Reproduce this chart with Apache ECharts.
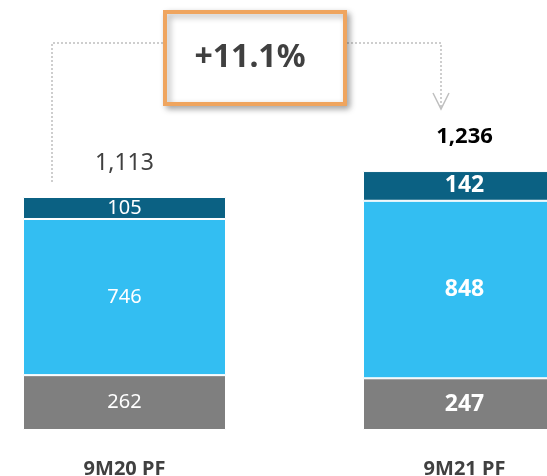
<!DOCTYPE html>
<html>
<head>
<meta charset="utf-8">
<script src="https://cdn.jsdelivr.net/npm/echarts@6/dist/echarts.min.js"></script>
<style>
  html, body { margin: 0; padding: 0; background: #fff; }
  #chart { width: 547px; height: 476px; }
</style>
</head>
<body>
<div id="chart"></div>
<script>
// data
var categories = ["9M20 PF", "9M21 PF"];
var grayValues = [262, 247];
var lightValues = [746, 848];
var darkValues = [105, 142];
var totals = [1113, 1236];

var FONT = "'Noto Sans', 'Open Sans', sans-serif";
var growth = (totals[1] / totals[0] - 1) * 100;
var growthText = "+" + growth.toFixed(1) + "%";

// left bar: plain labels, right bar: bold labels
function segData(values) {
  return values.map(function (v, i) {
    return {
      value: v,
      label: { fontWeight: i === 1 ? "bold" : "normal", fontSize: i === 1 ? 23 : 20 },
    };
  });
}

var chart = echarts.init(document.getElementById("chart"));
var option = {
  animation: false,
  backgroundColor: "#ffffff",
  grid: {
    left: -45.5,
    width: 680,
    top: 116,
    bottom: 46,
    containLabel: false,
    outerBoundsMode: "none",
  },
  xAxis: {
    type: "category",
    data: categories,
    axisLine: { show: false },
    axisTick: { show: false },
    axisLabel: {
      margin: 29,
      color: "#404040",
      fontSize: 20,
      fontWeight: "bold",
      fontFamily: FONT,
    },
  },
  yAxis: {
    type: "value",
    min: 0,
    max: 1500,
    show: false,
    splitLine: { show: false },
  },
  series: [
    {
      type: "bar",
      stack: "t",
      barWidth: 203,
      data: segData(grayValues),
      itemStyle: { color: "#7F7F7F", borderColor: "#ffffff", borderWidth: 1 },
      label: { show: true, position: "inside", color: "#ffffff", fontFamily: FONT },
    },
    {
      type: "bar",
      stack: "t",
      data: segData(lightValues),
      itemStyle: { color: "#33BEF2", borderColor: "#ffffff", borderWidth: 1 },
      label: { show: true, position: "inside", color: "#ffffff", fontFamily: FONT },
    },
    {
      type: "bar",
      stack: "t",
      data: segData(darkValues),
      itemStyle: { color: "#0B6183", borderColor: "#ffffff", borderWidth: 1 },
      label: { show: true, position: "inside", color: "#ffffff", fontFamily: FONT },
    },
    {
      // total labels above the stacks
      type: "bar",
      stack: "t",
      data: totals.map(function (t, i) {
        return {
          value: 0,
          label: {
            color: i === 1 ? "#000000" : "#404040",
            fontWeight: i === 1 ? "bold" : "normal",
            fontSize: i === 1 ? 22 : 23,
            distance: i === 1 ? 23 : 22,
          },
        };
      }),
      itemStyle: { color: "transparent" },
      label: {
        show: true,
        position: "top",
        fontFamily: FONT,
        formatter: function (p) {
          return totals[p.dataIndex].toLocaleString("en-US");
        },
      },
    },
  ],
  graphic: [
    {
      type: "polyline",
      shape: { points: [[52, 182], [52, 43], [163, 43]] },
      style: { stroke: "#BFBFBF", lineWidth: 1.5, lineDash: [2, 2], fill: null },
    },
    {
      type: "polyline",
      shape: { points: [[347, 43], [441, 43], [441, 108]] },
      style: { stroke: "#BFBFBF", lineWidth: 1.5, lineDash: [2, 2], fill: null },
    },
    {
      type: "polyline",
      shape: { points: [[433, 93], [441, 109], [449, 93]] },
      style: { stroke: "#BFBFBF", lineWidth: 1.5, fill: null },
    },
    {
      type: "rect",
      shape: { x: 165, y: 12, width: 180, height: 92 },
      style: {
        fill: "#ffffff",
        stroke: "#EFA55F",
        lineWidth: 4,
        shadowBlur: 6,
        shadowOffsetX: 3,
        shadowOffsetY: 3,
        shadowColor: "rgba(0,0,0,0.3)",
      },
    },
    {
      type: "text",
      x: 250,
      y: 58,
      style: {
        text: growthText,
        fill: "#404040",
        font: "bold 32px " + FONT,
        align: "center",
        verticalAlign: "middle",
      },
    },
  ],
};
chart.setOption(option);
</script>
</body>
</html>
